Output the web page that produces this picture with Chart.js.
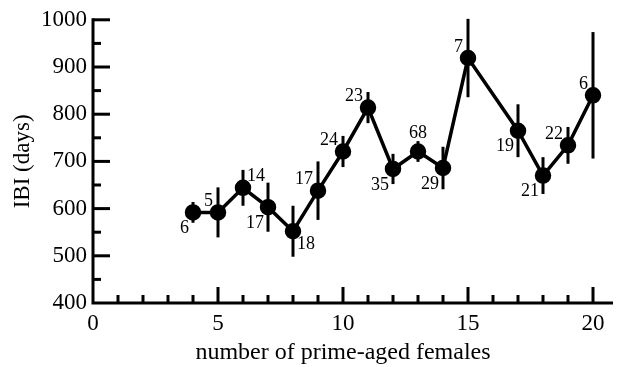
<!DOCTYPE html>
<html>
<head>
<meta charset="utf-8">
<script src="https://cdn.jsdelivr.net/npm/chart.js@4.4.1/dist/chart.umd.min.js"></script>
<style>
  html, body { margin: 0; padding: 0; background: #fff; }
  #wrap { width: 621px; height: 367px; }
</style>
</head>
<body>
<div id="wrap"><canvas id="ibiChart"></canvas></div>
<script>
// number of prime-aged females (x), mean IBI in days, error half-length, sample size
const females = [4, 5, 6, 7, 8, 9, 10, 11, 12, 13, 14, 15, 17, 18, 19, 20];
const ibiDays = [592, 592, 644, 603, 552, 638, 721, 814, 684, 721, 686, 919, 765, 670, 734, 840];
const ibiError = [22, 53, 38, 52, 54, 62, 33, 33, 32, 22, 45, 83, 56, 39, 39, 134];
const sampleSizes = [6, 5, 14, 17, 18, 17, 24, 23, 35, 68, 29, 7, 19, 21, 22, 6];
const yTicks = [400, 500, 600, 700, 800, 900, 1000];
const xTicks = [0, 5, 10, 15, 20];

// where each sample size label sits around its point
const labelSide = ['bl', 'tl', 'tr', 'bl', 'br', 'tl', 'tl', 'tl', 'bl', 't', 'bl', 'tl', 'bl', 'bl', 'tl', 'tl'];

const FONT = "'Liberation Serif', 'Times New Roman', serif";
Chart.defaults.font.family = FONT;
Chart.defaults.color = '#000';

const errorBars = {
  id: 'errorBars',
  beforeDatasetsDraw(chart) {
    const { ctx, scales: { x, y } } = chart;
    ctx.save();
    ctx.strokeStyle = '#000';
    ctx.lineWidth = 3;
    females.forEach((f, i) => {
      const px = x.getPixelForValue(f);
      ctx.beginPath();
      ctx.moveTo(px, y.getPixelForValue(ibiDays[i] + ibiError[i]));
      ctx.lineTo(px, y.getPixelForValue(ibiDays[i] - ibiError[i]));
      ctx.stroke();
    });
    ctx.restore();
  }
};

// axis lines with inward ticks (long = labelled, short = minor)
const axesLines = {
  id: 'axesLines',
  beforeDatasetsDraw(chart) {
    const { ctx, chartArea, scales: { x, y } } = chart;
    const left = chartArea.left;
    const bottom = chartArea.bottom;
    ctx.save();
    ctx.strokeStyle = '#000';
    ctx.lineWidth = 3;
    ctx.lineCap = 'butt';
    ctx.beginPath();
    ctx.moveTo(left, y.getPixelForValue(1000) - 1.5);
    ctx.lineTo(left, bottom);
    ctx.lineTo(x.getPixelForValue(20.8), bottom);
    ctx.stroke();
    for (let v = 1; v <= 20; v++) {
      const px = x.getPixelForValue(v);
      const len = v % 5 === 0 ? 16 : 8;
      ctx.beginPath();
      ctx.moveTo(px, bottom);
      ctx.lineTo(px, bottom - len);
      ctx.stroke();
    }
    for (let v = 450; v <= 1000; v += 50) {
      const py = y.getPixelForValue(v);
      const len = v % 100 === 0 ? 17 : 8;
      ctx.beginPath();
      ctx.moveTo(left, py);
      ctx.lineTo(left + len, py);
      ctx.stroke();
    }
    ctx.restore();
  }
};

const sizeLabels = {
  id: 'sizeLabels',
  afterDatasetsDraw(chart) {
    const { ctx, scales: { x, y } } = chart;
    ctx.save();
    ctx.fillStyle = '#000';
    ctx.font = `18px ${FONT}`;
    ctx.textBaseline = 'middle';
    females.forEach((f, i) => {
      const px = x.getPixelForValue(f);
      const py = y.getPixelForValue(ibiDays[i]);
      let tx = px, ty = py;
      switch (labelSide[i]) {
        case 'bl': ctx.textAlign = 'right'; tx = px - 4; ty = py + 16; break;
        case 'tl': ctx.textAlign = 'right'; tx = px - 5; ty = py - 11; break;
        case 'tr': ctx.textAlign = 'left'; tx = px + 4; ty = py - 12; break;
        case 'br': ctx.textAlign = 'left'; tx = px + 4; ty = py + 13; break;
        default: ctx.textAlign = 'center'; ty = py - 18;
      }
      ctx.fillText(String(sampleSizes[i]), tx, ty);
    });
    ctx.restore();
  }
};

new Chart('ibiChart', {
  type: 'line',
  data: {
    datasets: [{
      data: females.map((f, i) => ({ x: f, y: ibiDays[i] })),
      borderColor: '#000',
      borderWidth: 3.5,
      backgroundColor: '#000',
      pointBackgroundColor: '#000',
      pointBorderColor: '#000',
      pointRadius: 6.5,
      tension: 0,
      clip: false
    }]
  },
  options: {
    responsive: true,
    maintainAspectRatio: false,
    animation: false,
    layout: { padding: { top: 19, right: 28, left: 0, bottom: 0 } },
    plugins: { legend: { display: false }, tooltip: { enabled: false } },
    scales: {
      x: {
        type: 'linear',
        min: 0,
        max: 20,
        afterBuildTicks: (scale) => { scale.ticks = xTicks.map(v => ({ value: v })); },
        afterFit: (scale) => { scale.height = 64; },
        grid: { display: false, drawTicks: false },
        border: { display: false },
        ticks: { font: { size: 23 }, color: '#000', padding: 7, maxRotation: 0, autoSkip: false, callback: (v) => String(v) },
        title: {
          display: true,
          text: 'number of prime-aged females',
          font: { size: 24 },
          color: '#000',
          padding: { top: 0, bottom: 0 }
        }
      },
      y: {
        min: 400,
        max: 1000,
        afterBuildTicks: (scale) => { scale.ticks = yTicks.map(v => ({ value: v })); },
        afterFit: (scale) => { scale.width = 93; },
        grid: { display: false, drawTicks: false },
        border: { display: false },
        ticks: { font: { size: 23 }, color: '#000', padding: 6, callback: (v) => String(v) },
        title: {
          display: true,
          text: 'IBI (days)',
          font: { size: 23 },
          color: '#000',
          padding: { top: 9, bottom: 0 }
        }
      }
    }
  },
  plugins: [axesLines, errorBars, sizeLabels]
});
</script>
</body>
</html>
